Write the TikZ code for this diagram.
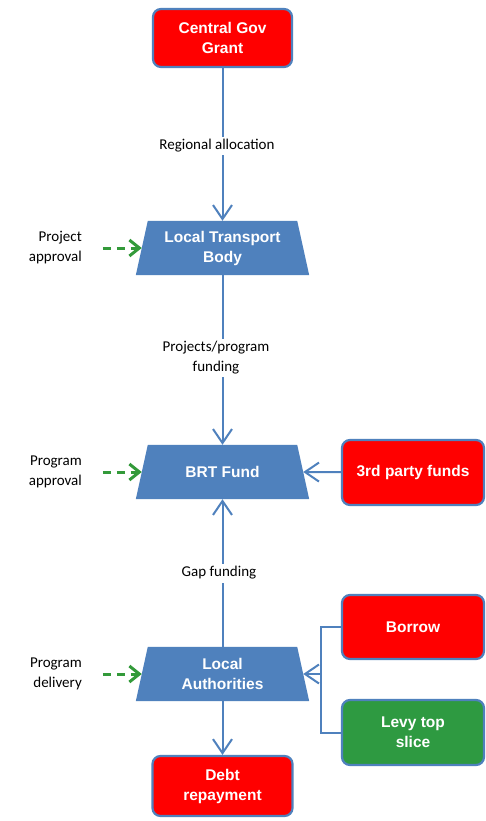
\documentclass[tikz,border=0pt]{standalone}
\usepackage{fontspec}
\setmainfont{Liberation Sans}
\newfontfamily\lblfont{Carlito}
\usetikzlibrary{arrows.meta,calc}
\definecolor{lineblue}{HTML}{4F81BD}
\definecolor{boxred}{HTML}{FF0000}
\definecolor{boxgreen}{HTML}{2E9A41}
\definecolor{dashgreen}{HTML}{339A3A}
\pgfdeclarelayer{bg}\pgfsetlayers{bg,main}
\newcommand\trapfill[1]{\fill[lineblue] ([xshift=6pt]#1.north west) -- ([xshift=-6pt]#1.north east) -- ([xshift=6pt]#1.south east) -- ([xshift=-6pt]#1.south west) -- cycle;}
\begin{document}
\begin{tikzpicture}[x=1pt,y=-1pt,
  rbox/.style={draw=lineblue, line width=2.2pt, rounded corners=8pt, fill=boxred, text=white,
    font=\bfseries\fontsize{15.5}{20}\selectfont, align=center, minimum width=140pt, minimum height=60pt, inner sep=0pt},
  trapnode/.style={minimum width=161pt, minimum height=54pt, inner sep=0pt, text=white,
    font=\bfseries\fontsize{15.5}{20}\selectfont, align=center},
  conn/.style={draw=lineblue, line width=2pt, -{Straight Barb[length=14pt,width=19pt]}},
  plain/.style={draw=lineblue, line width=2pt},
  dasharrow/.style={draw=dashgreen, line width=3pt, dash pattern=on 8pt off 6pt, -{Straight Barb[length=10pt,width=16pt]}},
  lbl/.style={font=\lblfont\fontsize{15}{20}\selectfont, text=black, align=center, fill=white, inner sep=3pt},
  sidelbl/.style={font=\lblfont\fontsize{15}{20}\selectfont, text=black, align=right, inner sep=0pt, anchor=east}]
\useasboundingbox (0,0) rectangle (485,821);

% boxes
\node[rbox, minimum width=139pt, minimum height=58pt] (cg) at (222.5,38) {Central Gov\\Grant};
\node[trapnode] (lt) at (222.5,248) {Local Transport\\Body};
\node[trapnode] (brt) at (222.5,472) {BRT Fund};
\node[trapnode] (la) at (222.5,674) {Local\\Authorities};
\node[rbox, minimum width=142pt, minimum height=65pt] (tp) at (413,472.5) {3rd party funds};
\node[rbox, minimum width=142pt, minimum height=64pt] (bo) at (413,627) {Borrow};
\node[rbox, minimum width=142pt, minimum height=65pt, fill=boxgreen] (lv) at (413,732.5) {Levy top\\slice};
\node[rbox, minimum width=140pt, minimum height=60pt] (db) at (222.5,786) {Debt\\repayment};

\begin{pgfonlayer}{bg}
\fill[white] (0,0) rectangle (485,821);
\trapfill{lt}
\trapfill{brt}
\trapfill{la}
\end{pgfonlayer}

% main flow
\draw[conn] (cg) -- (lt);
\node[lbl] (l1) at (217,146) {Regional allocation};
\draw[conn] (lt) -- (brt);
\node[lbl] (l2) at (216,358) {Projects/program\\funding};
\draw[conn] (la) -- (brt);
\node[lbl] (l3) at (219,573) {Gap funding};
\draw[conn] (la) -- (db);

% side inputs
\draw[conn] (tp) -- (brt.east);
\path ([xshift=-20pt]bo.west) coordinate (bw);
\coordinate (jn) at (bw |- la.east);
\draw[plain] (bo.west) -- (bw) -- ([xshift=-20pt]lv.west) -- (lv.west);
\draw[conn] (jn) -- (la.east);

% left labels
\node[sidelbl] (s1) at (82,248) {Project\\approval};
\node[sidelbl] (s2) at (82,472) {Program\\approval};
\node[sidelbl] (s3) at (82,674) {Program\\delivery};
\coordinate (d1) at ($(lt.west)+(-39,0)$);
\coordinate (d2) at ($(brt.west)+(-39,0)$);
\coordinate (d3) at ($(la.west)+(-39,0)$);
\draw[dasharrow] (d1) -- (lt.west);
\draw[dasharrow] (d2) -- (brt.west);
\draw[dasharrow] (d3) -- (la.west);
\end{tikzpicture}
\end{document}
